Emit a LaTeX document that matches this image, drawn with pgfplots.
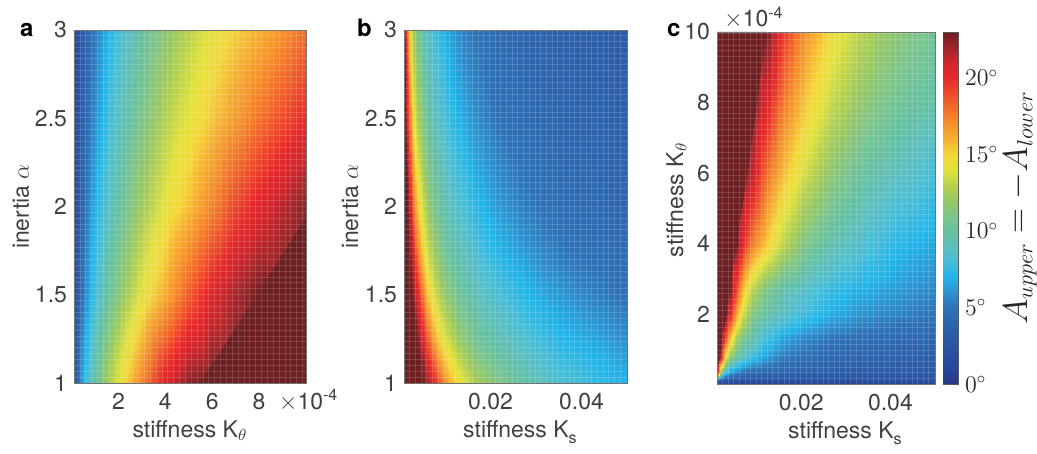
\documentclass[border=0pt]{standalone}
\usepackage{pgfplots}
\pgfplotsset{compat=1.18}
\usepackage{fontspec}
\setmainfont{TeX Gyre Heros}
\definecolor{satred}{RGB}{110,31,34}
\pgfplotsset{
  colormap={angle}{
    rgb255(0pt)=(41,53,131)
    rgb255(1pt)=(38,71,154)
    rgb255(3pt)=(43,90,165)
    rgb255(5pt)=(47,114,183)
    rgb255(6pt)=(45,146,207)
    rgb255(7pt)=(34,181,233)
    rgb255(8pt)=(70,189,216)
    rgb255(9pt)=(93,191,191)
    rgb255(10pt)=(102,193,160)
    rgb255(11pt)=(126,197,138)
    rgb255(12pt)=(150,200,100)
    rgb255(13pt)=(185,210,78)
    rgb255(14pt)=(225,225,62)
    rgb255(15pt)=(243,215,58)
    rgb255(16pt)=(246,176,49)
    rgb255(17pt)=(245,145,44)
    rgb255(18pt)=(242,111,42)
    rgb255(19pt)=(238,75,43)
    rgb255(20pt)=(231,41,42)
    rgb255(21pt)=(208,38,43)
    rgb255(22pt)=(160,38,43)
    rgb255(23pt)=(110,31,34)
  },
  panel/.style={
    scale only axis, anchor=south west,
    colormap name=angle, point meta min=0, point meta max=23,
    axis line style={draw=black!55, line width=0.4pt},
    tick style={draw=none},
    tick label style={font=\fontsize{11.5}{13}\selectfont, text=black!75},
    label style={font=\fontsize{11.5}{13}\selectfont, text=black!75},
    xticklabel style={anchor=base, yshift=-13pt},
    scaled ticks=false,
    /pgf/number format/assume math mode=true,
    axis on top,
    extra tick style={grid=major, major grid style={white, opacity=0.15, line width=0.3pt}},
    extra x tick labels={}, extra y tick labels={},
  },
}
\begin{document}
\begin{tikzpicture}
\path[use as bounding box] (0,0) rectangle (518.5pt,227pt);

% ---------------- panel a ----------------
\begin{axis}[panel, at={(37pt,35.5pt)}, width=116pt, height=176.5pt,
  xmin=0.1e-4, xmax=10e-4, ymin=1, ymax=3,
  xtick={2e-4,4e-4,6e-4,8e-4}, xticklabels={2,4,6,8},
  ytick={1,1.5,2,2.5,3}, yticklabels={1,1.5,2,2.5,3},
  extra x ticks={0.35e-4,0.6e-4,...,9.9e-4},
  extra y ticks={1.0333,1.0667,...,2.99},
  xlabel={stiffness K$_\theta$}, ylabel={inertia $\alpha$},
  xlabel style={at={(axis description cs:0.5,-0.153)}, anchor=base},
  ylabel style={at={(axis description cs:-0.194,0.5)}, anchor=base},
]
\addplot[surf, shader=interp, mesh/cols=13, point meta=explicit] table[x=x,y=y,meta=v] {
x y v
0.1e-4 1 2.5
0.5e-4 1 7
1e-4 1 10
1.5e-4 1 12.4
2e-4 1 14.2
3e-4 1 17.4
4e-4 1 20.5
5e-4 1 22.5
6e-4 1 24
7e-4 1 25
8e-4 1 25
9e-4 1 25
10e-4 1 25
0.1e-4 1.5 1.8
0.5e-4 1.5 5.3
1e-4 1.5 8.1
1.5e-4 1.5 10
2e-4 1.5 11.6
3e-4 1.5 14.2
4e-4 1.5 16.2
5e-4 1.5 18.6
6e-4 1.5 20.5
7e-4 1.5 21.9
8e-4 1.5 23.0
9e-4 1.5 24
10e-4 1.5 25
0.1e-4 2 1.5
0.5e-4 2 4.5
1e-4 2 7
1.5e-4 2 8.7
2e-4 2 10
3e-4 2 12.4
4e-4 2 14.2
5e-4 2 15.7
6e-4 2 17.4
7e-4 2 19.2
8e-4 2 20.5
9e-4 2 21.6
10e-4 2 22.5
0.1e-4 2.5 1.3
0.5e-4 2.5 3.8
1e-4 2.5 6
1.5e-4 2.5 7.7
2e-4 2.5 9
3e-4 2.5 11
4e-4 2.5 12.8
5e-4 2.5 14.2
6e-4 2.5 15.4
7e-4 2.5 16.7
8e-4 2.5 17.9
9e-4 2.5 19.0
10e-4 2.5 20.0
0.1e-4 3 1.2
0.5e-4 3 3.4
1e-4 3 5.3
1.5e-4 3 7
2e-4 3 8.1
3e-4 3 10
4e-4 3 11.6
5e-4 3 13.0
6e-4 3 14.2
7e-4 3 15.2
8e-4 3 16.0
9e-4 3 17.0
10e-4 3 18.0
};
\addplot[fill=satred, draw=none] coordinates {(5.5e-4,1) (10e-4,1) (10e-4,1.94)} --cycle;
\end{axis}

% ---------------- panel b ----------------
\begin{axis}[panel, at={(202pt,35.5pt)}, width=111.5pt, height=176.5pt,
  xmin=0.001, xmax=0.05, ymin=1, ymax=3,
  xtick={0.02,0.04}, xticklabels={0.02,0.04},
  ytick={1,1.5,2,2.5,3}, yticklabels={1,1.5,2,2.5,3},
  extra x ticks={0.00225,0.0035,...,0.049},
  extra y ticks={1.0333,1.0667,...,2.99},
  xlabel={stiffness K\raisebox{-0.5ex}{\footnotesize s}}, ylabel={inertia $\alpha$},
  xlabel style={at={(axis description cs:0.52,-0.153)}, anchor=base},
  ylabel style={at={(axis description cs:-0.206,0.5)}, anchor=base},
]
\addplot[surf, shader=interp, mesh/cols=14, point meta=explicit] table[x=x,y=y,meta=v] {
x y v
0.001 1 25
0.002 1 25
0.003 1 25
0.004 1 24
0.006 1 22.2
0.008 1 19.5
0.010 1 17
0.013 1 14.5
0.017 1 12.5
0.022 1 11.1
0.028 1 9.7
0.035 1 8.4
0.042 1 7.7
0.050 1 7.0
0.001 1.25 25
0.002 1.25 25
0.003 1.25 24
0.004 1.25 22.5
0.006 1.25 18.6
0.008 1.25 15.7
0.010 1.25 13.9
0.013 1.25 12.0
0.017 1.25 10.4
0.022 1.25 9.3
0.028 1.25 8.2
0.035 1.25 7.2
0.042 1.25 6.6
0.050 1.25 5.9
0.001 1.5 25
0.002 1.5 24
0.003 1.5 22.5
0.004 1.5 20.0
0.006 1.5 15.6
0.008 1.5 13.4
0.010 1.5 11.9
0.013 1.5 10.4
0.017 1.5 9.2
0.022 1.5 8.1
0.028 1.5 7.1
0.035 1.5 6.2
0.042 1.5 5.5
0.050 1.5 4.9
0.001 1.75 25
0.002 1.75 23.5
0.003 1.75 20.5
0.004 1.75 17.2
0.006 1.75 13.6
0.008 1.75 11.8
0.010 1.75 10.4
0.013 1.75 9.3
0.017 1.75 8.1
0.022 1.75 7.0
0.028 1.75 6.1
0.035 1.75 5.2
0.042 1.75 4.8
0.050 1.75 4.5
0.001 2 25
0.002 2 22.1
0.003 2 17.9
0.004 2 15.2
0.006 2 12.2
0.008 2 10.5
0.010 2 9.5
0.013 2 8.4
0.017 2 7.2
0.022 2 6.2
0.028 2 5.3
0.035 2 4.7
0.042 2 4.4
0.050 2 4.0
0.001 2.5 24
0.002 2.5 18.5
0.003 2.5 14.5
0.004 2.5 12.4
0.006 2.5 10.2
0.008 2.5 8.9
0.010 2.5 8.0
0.013 2.5 6.9
0.017 2.5 5.8
0.022 2.5 4.9
0.028 2.5 4.5
0.035 2.5 4.0
0.042 2.5 3.8
0.050 2.5 3.6
0.001 3 22.4
0.002 3 15.6
0.003 3 12.4
0.004 3 10.7
0.006 3 8.8
0.008 3 7.7
0.010 3 6.8
0.013 3 5.7
0.017 3 4.9
0.022 3 4.4
0.028 3 3.9
0.035 3 3.6
0.042 3 3.4
0.050 3 3.1
};
\addplot[fill=satred, draw=none] coordinates {(0.001,1) (0.0053,1) (0.0039,1.25) (0.0029,1.5) (0.0023,1.75) (0.0019,2) (0.0015,2.5) (0.0013,3) (0.001,3)} --cycle;
\end{axis}

% ---------------- panel c ----------------
\begin{axis}[panel, at={(358.5pt,35pt)}, width=109pt, height=176pt,
  xmin=0.0011, xmax=0.05, ymin=0.03e-4, ymax=10e-4,
  xtick={0.02,0.04}, xticklabels={0.02,0.04},
  ytick={2e-4,4e-4,6e-4,8e-4,10e-4}, yticklabels={2,4,6,8,10},
  extra x ticks={0.00235,0.0036,...,0.049},
  extra y ticks={0.19e-4,0.35e-4,...,9.9e-4},
  xlabel={stiffness K\raisebox{-0.5ex}{\footnotesize s}}, ylabel={stiffness K$_\theta$},
  xlabel style={at={(axis description cs:0.587,-0.156)}, anchor=base},
  ylabel style={at={(axis description cs:-0.156,0.523)}, anchor=base},
  colorbar,
  colorbar style={
    at={(parent axis.north east)}, anchor=north west, xshift=-4.5pt,
    scale only axis, width=7.5pt, height=176pt,
    axis on top=false,
    axis line style={draw=black!65, line width=0.4pt},
    ytick={0,5,10,15,20},
    yticklabel={$\pgfmathprintnumber{\tick}^{\circ}$},
    yticklabel style={font=\fontsize{12}{14}\selectfont, text=black!85},
    ytick pos=right, tick align=inside,
    major tick length=2pt,
    tick style={draw=black!70, line width=0.5pt},
    ylabel={$A_{upper} = -A_{lower}$},
    ylabel style={font=\fontsize{16}{18}\selectfont, text=black!85, at={(axis description cs:5.6,0.5)}, anchor=base},
  },
]
\addplot[surf, shader=interp, mesh/cols=14, point meta=explicit] table[x=x,y=y,meta=v] {
x y v
0.0011 0.03e-4 1.0
0.002 0.03e-4 0.6
0.003 0.03e-4 0.4
0.004 0.03e-4 0.4
0.0055 0.03e-4 0.4
0.007 0.03e-4 0.4
0.009 0.03e-4 0.4
0.012 0.03e-4 0.4
0.016 0.03e-4 0.4
0.021 0.03e-4 0.4
0.027 0.03e-4 0.4
0.034 0.03e-4 0.4
0.042 0.03e-4 0.4
0.050 0.03e-4 0.4
0.0011 0.15e-4 4
0.002 0.15e-4 3.2
0.003 0.15e-4 2.9
0.004 0.15e-4 2.7
0.0055 0.15e-4 2.6
0.007 0.15e-4 2.5
0.009 0.15e-4 2.5
0.012 0.15e-4 2.4
0.016 0.15e-4 2.4
0.021 0.15e-4 2.3
0.027 0.15e-4 2.3
0.034 0.15e-4 2.2
0.042 0.15e-4 2.2
0.050 0.15e-4 2.2
0.0011 0.4e-4 23
0.002 0.4e-4 12
0.003 0.4e-4 9
0.004 0.4e-4 7
0.0055 0.4e-4 6
0.007 0.4e-4 5.2
0.009 0.4e-4 4.7
0.012 0.4e-4 4.3
0.016 0.4e-4 4.0
0.021 0.4e-4 3.7
0.027 0.4e-4 3.5
0.034 0.4e-4 3.3
0.042 0.4e-4 3.1
0.050 0.4e-4 3.0
0.0011 0.8e-4 25
0.002 0.8e-4 21
0.003 0.8e-4 14.5
0.004 0.8e-4 11.8
0.0055 0.8e-4 10
0.007 0.8e-4 9
0.009 0.8e-4 7.7
0.012 0.8e-4 6.4
0.016 0.8e-4 5.3
0.021 0.8e-4 4.7
0.027 0.8e-4 4.2
0.034 0.8e-4 3.9
0.042 0.8e-4 3.6
0.050 0.8e-4 3.4
0.0011 1.3e-4 25
0.002 1.3e-4 24
0.003 1.3e-4 19
0.004 1.3e-4 15.3
0.0055 1.3e-4 12
0.007 1.3e-4 10.8
0.009 1.3e-4 9.5
0.012 1.3e-4 7.8
0.016 1.3e-4 6.5
0.021 1.3e-4 5.6
0.027 1.3e-4 5.0
0.034 1.3e-4 4.6
0.042 1.3e-4 4.3
0.050 1.3e-4 4.0
0.0011 2e-4 25
0.002 2e-4 25
0.003 2e-4 24
0.004 2e-4 20.4
0.0055 2e-4 16.0
0.007 2e-4 13.5
0.009 2e-4 11.3
0.012 2e-4 9.8
0.016 2e-4 8.8
0.021 2e-4 7.7
0.027 2e-4 6.8
0.034 2e-4 6.0
0.042 2e-4 5.5
0.050 2e-4 5.0
0.0011 2.7e-4 25
0.002 2.7e-4 25
0.003 2.7e-4 24.5
0.004 2.7e-4 23
0.0055 2.7e-4 18.8
0.007 2.7e-4 15.6
0.009 2.7e-4 13.0
0.012 2.7e-4 11
0.016 2.7e-4 9.6
0.021 2.7e-4 8.6
0.027 2.7e-4 7.5
0.034 2.7e-4 6.8
0.042 2.7e-4 6.2
0.050 2.7e-4 5.7
0.0011 4e-4 25
0.002 4e-4 25
0.003 4e-4 25
0.004 4e-4 24
0.0055 4e-4 23
0.007 4e-4 20
0.009 4e-4 17.6
0.012 4e-4 15.4
0.016 4e-4 13.1
0.021 4e-4 11
0.027 4e-4 9.5
0.034 4e-4 8.3
0.042 4e-4 7.2
0.050 4e-4 6.6
0.0011 6e-4 25
0.002 6e-4 25
0.003 6e-4 25
0.004 6e-4 25
0.0055 6e-4 25
0.007 6e-4 24
0.009 6e-4 21.3
0.012 6e-4 18.1
0.016 6e-4 15.7
0.021 6e-4 13.5
0.027 6e-4 11.6
0.034 6e-4 10
0.042 6e-4 9
0.050 6e-4 8
0.0011 8e-4 25
0.002 8e-4 25
0.003 8e-4 25
0.004 8e-4 25
0.0055 8e-4 25
0.007 8e-4 25
0.009 8e-4 24
0.012 8e-4 20.6
0.016 8e-4 17.7
0.021 8e-4 15.3
0.027 8e-4 13.3
0.034 8e-4 11.6
0.042 8e-4 10.4
0.050 8e-4 9.7
0.0011 10e-4 25
0.002 10e-4 25
0.003 10e-4 25
0.004 10e-4 25
0.0055 10e-4 25
0.007 10e-4 25
0.009 10e-4 25
0.012 10e-4 23.1
0.016 10e-4 19.5
0.021 10e-4 16.8
0.027 10e-4 14.6
0.034 10e-4 12.8
0.042 10e-4 11.4
0.050 10e-4 10.5
};
\addplot[fill=satred, draw=none] coordinates {(0.0011,0.35e-4) (0.0018,0.8e-4) (0.0022,1.3e-4) (0.0033,2e-4) (0.0040,2.7e-4) (0.0055,4e-4) (0.0079,6e-4) (0.0101,8e-4) (0.0121,10e-4) (0.0011,10e-4)} --cycle;
\end{axis}

\node[anchor=base west, font=\fontsize{11.5}{13}\selectfont, text=black!75] at (135.9pt,22.4pt) {$\times$10\textsuperscript{-4}};
\node[anchor=base west, font=\fontsize{11.5}{13}\selectfont, text=black!75] at (358.5pt,213.5pt) {$\times$10\textsuperscript{-4}};
\node[anchor=base west, font=\fontsize{12}{13}\bfseries\selectfont] at (6.5pt,208.5pt) {a};
\node[anchor=base west, font=\fontsize{12}{13}\bfseries\selectfont] at (175pt,208.5pt) {b};
\node[anchor=base west, font=\fontsize{12}{13}\bfseries\selectfont] at (330pt,208.5pt) {c};
\end{tikzpicture}
\end{document}
